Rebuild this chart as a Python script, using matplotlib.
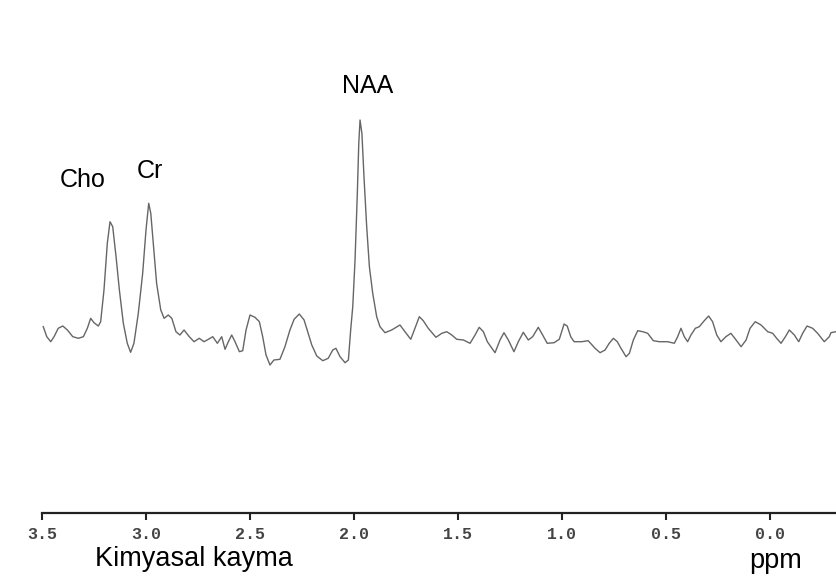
import matplotlib
matplotlib.use("Agg")
import matplotlib.pyplot as plt

# chemical shift (ppm) and signal amplitude (a.u.)
ppm = [3.494, 3.477, 3.458, 3.442, 3.422, 3.400, 3.378, 3.352, 3.325, 3.301,
       3.282, 3.266, 3.250, 3.229, 3.218, 3.202, 3.186, 3.173, 3.160, 3.144,
       3.128, 3.109, 3.090, 3.074, 3.058, 3.037, 3.016, 3.000, 2.987, 2.977,
       2.965, 2.949, 2.929, 2.913, 2.893, 2.876, 2.856, 2.837, 2.817, 2.792,
       2.769, 2.744, 2.721, 2.700, 2.679, 2.657, 2.636,
       2.620, 2.604, 2.588, 2.572, 2.551, 2.535, 2.519, 2.500, 2.476, 2.455,
       2.439, 2.423, 2.404, 2.385, 2.356, 2.332, 2.308, 2.288, 2.263, 2.240,
       2.225, 2.203, 2.179, 2.150, 2.124, 2.102, 2.087, 2.067, 2.043, 2.027,
       2.016, 2.006, 2.000, 1.995, 1.984, 1.977, 1.971, 1.962, 1.952, 1.939,
       1.926, 1.910, 1.891, 1.875, 1.851, 1.819, 1.779, 1.755, 1.727, 1.707,
       1.686, 1.667, 1.643, 1.606, 1.578, 1.554, 1.530, 1.506, 1.474, 1.442,
       1.418, 1.398, 1.378, 1.359, 1.322, 1.298, 1.279, 1.258, 1.231, 1.210,
       1.186, 1.162, 1.141, 1.114, 1.093, 1.071, 1.038, 1.013, 0.990, 0.975,
       0.958, 0.942, 0.905, 0.874, 0.841, 0.817, 0.793, 0.773, 0.753, 0.734,
       0.721, 0.692, 0.676, 0.657, 0.636, 0.612, 0.588, 0.561, 0.532, 0.492,
       0.460, 0.444, 0.428, 0.412, 0.396, 0.380, 0.359, 0.340, 0.316, 0.295,
       0.276, 0.256, 0.236, 0.212, 0.188, 0.163, 0.139, 0.115, 0.096, 0.071,
       0.043, 0.011, -0.013, -0.032, -0.053, -0.074, -0.093, -0.117, -0.138,
       -0.157, -0.178, -0.205, -0.229, -0.261, -0.285, -0.293, -0.317]
amp = [13.3, 3.3, -1.7, 3.3, 11.7, 14, 10, 3.3, 1.7, 3.3,
       11.7, 21.7, 17.3, 14, 18.3, 50, 96.7, 118.3, 113.3, 83.3,
       50, 16.7, -3.3, -12.3, -3.3, 26.7, 66.7, 110, 136.7, 126.7,
       96.7, 56.7, 30, 21.7, 25, 21.7, 8.3, 5, 10, 3.3,
       -1.7, 1.7, -1.7, 0.7, 3.3, -3.3, 3.3,
       -9.3, -1.7, 5, -1.7, -11.7, -10.7, 10, 25, 22.7, 18.3,
       3.3, -15, -25, -20, -19.3, -6.7, 10, 20.7, 26, 20,
       10, -5, -16, -20.7, -18.3, -10, -8.3, -16.7, -22.7, -20,
       10, 33.3, 60, 80, 146.7, 196.7, 220, 206.7, 163.3, 113.3,
       73.3, 46.7, 23.3, 13.3, 7.3, 10, 15, 8.3, 0.7, 11.7,
       23.3, 19.3, 11.7, 2.7, 6.7, 8.3, 5, 0.7, 0, -3.3,
       5, 12.7, 8.3, -1.7, -12.7, 0, 7.3, 0, -11.7, -1.7,
       7.7, 0, 3.3, 12.7, 5, -3.3, -2.7, 0.7, 16, 14,
       3.3, -1.7, -1.7, -0.7, -8.3, -12.7, -10, -3.3, 1.7, -1.7,
       -6.7, -16.7, -13.3, 0, 9.3, 8.3, 6.7, -0.7, -1.7, -1.7,
       -3.3, 3.3, 11.7, 3.3, -1.7, 5, 11.7, 13.3, 19.3, 24,
       18.3, 5, -1.7, 3.3, 6.7, 0, -6.7, 0, 11.7, 18.3,
       15, 8.3, 6.7, 1.7, -3.3, 3.3, 10, 5, -1.7,
       6.7, 14, 11.7, 6.7, -1.7, 3.3, 7.3, 8.3]

ticks = [3.5, 3.0, 2.5, 2.0, 1.5, 1.0, 0.5, 0.0]
tick_labels = ["3.5", "3.0", "2.5", "2.0", "1.5", "1.0", "0.5", "0.0"]
peaks = ["Cho", "Cr", "NAA"]

fig = plt.figure(figsize=(8.36, 5.8), dpi=100)
ax = fig.add_axes([0, 0, 1, 1])
ax.plot(ppm, amp, color="#666666", linewidth=1.0)

x_right = 3.5 - 794 / 208
ax.set_xlim(3.5 + 42 / 208, x_right)
ax.set_ylim(-240, 340)

for s in ["left", "top", "right"]:
    ax.spines[s].set_visible(False)
ax.spines["bottom"].set_position(("data", -173))
ax.spines["bottom"].set_bounds(3.5, x_right)
ax.spines["bottom"].set_linewidth(1.6)
ax.spines["bottom"].set_color("#222222")
ax.set_yticks([])
ax.set_xticks(ticks)
ax.set_xticklabels(tick_labels, family="Liberation Mono", fontweight="bold",
                   fontsize=12, color="#444444")
ax.tick_params(axis="x", direction="out", length=5, width=1.5,
               color="#222222", pad=5)

lab = dict(family="Liberation Sans", fontsize=18, color="black", va="baseline")
fig.text(83 / 836, 1 - 187 / 580, peaks[0], ha="center", **lab)
fig.text(150 / 836, 1 - 178 / 580, peaks[1], ha="center", **lab)
fig.text(368 / 836, 1 - 93 / 580, peaks[2], ha="center", **lab)

ax_lab = dict(family="Liberation Sans", fontsize=19.5, color="black", va="baseline")
fig.text(95 / 836, 1 - 566 / 580, "Kimyasal kayma", ha="left", **ax_lab)
fig.text(749 / 836, 1 - 568 / 580, "ppm", ha="left", **ax_lab)

fig.savefig("out.png", dpi=100, facecolor="white")
